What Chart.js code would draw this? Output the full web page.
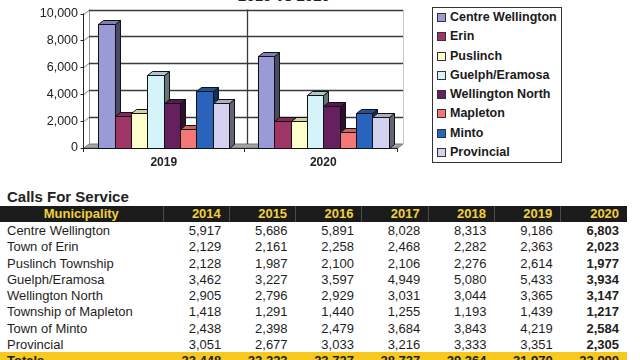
<!DOCTYPE html>
<html>
<head>
<meta charset="utf-8">
<script src="https://cdn.jsdelivr.net/npm/chart.js@4.4.0/dist/chart.umd.min.js"></script>
<style>
  html, body { margin: 0; padding: 0; background: #fff; overflow: hidden; }
  body { width: 640px; height: 360px; position: relative; font-family: 'Liberation Sans', Arial, sans-serif; color: #222; }
  #title { position: absolute; left: 0; width: 568px; top: -12px; text-align: center; font: bold 15px/15px 'Liberation Sans', Arial, sans-serif; color: #222; }
  #chart { position: absolute; left: 0; top: 0; }
  #legend { position: absolute; left: 432px; top: 7px; width: 128px; height: 154px; border: 1px solid #333; }
  #legend .item { height: 19.3px; line-height: 19.3px; font: bold 12.5px/19.3px 'Liberation Sans', Arial, sans-serif; color: #1a1a1a; white-space: nowrap; }
  #legend .sw { display: inline-block; width: 7px; height: 7px; border: 1px solid #333; margin: 0 4px 0 4px; vertical-align: -1px; }
  #calls { position: absolute; left: 7px; top: 189px; font: bold 15px/15px 'Liberation Sans', Arial, sans-serif; color: #222; }
  #tbl { position: absolute; left: 0; top: 206px; width: 627px; border-collapse: collapse; table-layout: fixed; font-size: 13px; }
  #tbl th { background: #1b1b1b; color: #f1d23a; font: bold 13px/16px 'Liberation Sans', Arial, sans-serif; height: 16px; padding: 0 8px 0 0; text-align: right; border-left: 1px solid #4a4a4a; }
  #tbl th:first-child { text-align: center; border-left: none; padding: 0; }
  #tbl td { font: 13px/14.3px 'Liberation Sans', Arial, sans-serif; padding: 2px 8px 0 0; height: 14.3px; text-align: right; color: #1e1e1e; white-space: nowrap; }
  #tbl td:first-child { text-align: left; padding-left: 7px; }
  #tbl td:last-child { font-weight: bold; }
  #tbl tr.tot td { background: #f7c81e; font-weight: bold; }
</style>
</head>
<body>
<div id="title">2019 vs 2020</div>
<canvas id="chart" width="420" height="175"></canvas>
<div id="legend"></div>
<div id="calls">Calls For Service</div>
<table id="tbl"></table>
<script>
const municipalities = ['Centre Wellington', 'Town of Erin', 'Puslinch Township', 'Guelph/Eramosa', 'Wellington North', 'Township of Mapleton', 'Town of Minto', 'Provincial'];
const legendLabels = ['Centre Wellington', 'Erin', 'Puslinch', 'Guelph/Eramosa', 'Wellington North', 'Mapleton', 'Minto', 'Provincial'];
const years = ['2014', '2015', '2016', '2017', '2018', '2019', '2020'];
const calls2014 = [5917, 2129, 2128, 3462, 2905, 1418, 2438, 3051];
const calls2015 = [5686, 2161, 1987, 3227, 2796, 1291, 2398, 2677];
const calls2016 = [5891, 2258, 2100, 3597, 2929, 1440, 2479, 3033];
const calls2017 = [8028, 2468, 2106, 4949, 3031, 1255, 3684, 3216];
const calls2018 = [8313, 2282, 2276, 5080, 3044, 1193, 3843, 3333];
const calls2019 = [9186, 2363, 2614, 5433, 3365, 1439, 4219, 3351];
const calls2020 = [6803, 2023, 1977, 3934, 3147, 1217, 2584, 2305];
const totals = [23448, 22223, 23727, 28737, 29364, 31970, 23990];
const chartYears = ['2019', '2020'];
const yTicks = [0, 2000, 4000, 6000, 8000, 10000];
const barColors = ['#9a9ad6', '#9e3566', '#ffffcc', '#d5f3f9', '#64205f', '#f47676', '#2a63bb', '#d2d2f0'];

const DX = 5, DY = 4;
function shade(hex, f){
    const n = parseInt(hex.slice(1), 16);
    const c = [n >> 16, (n >> 8) & 255, n & 255].map(v => Math.round(v * f));
    return `rgb(${c[0]},${c[1]},${c[2]})`;
}
function poly(ctx, pts, fill, stroke){
    ctx.beginPath();
    pts.forEach((p, i) => i ? ctx.lineTo(p[0], p[1]) : ctx.moveTo(p[0], p[1]));
    ctx.closePath();
    if(fill){ ctx.fillStyle = fill; ctx.fill(); }
    if(stroke){ ctx.strokeStyle = stroke; ctx.stroke(); }
}
function line(ctx, x1, y1, x2, y2){ ctx.beginPath(); ctx.moveTo(x1, y1); ctx.lineTo(x2, y2); ctx.stroke(); }

// fake 3d box + bars
const box3d = {
    id: 'box3d',
    beforeDatasetsDraw(chart){
        const { ctx, chartArea: a, scales: { x, y } } = chart;
        ctx.save();
        ctx.lineWidth = 1;
        // floor
        const b = Math.round(a.bottom);
        poly(ctx, [[a.left, b], [a.left + DX, b - DY], [a.right, b - DY], [a.right - DX, b]], '#a3a3a3', '#777');
        // back wall edges
        ctx.strokeStyle = '#c8c8c8';
        line(ctx, a.right + 0.5, a.top - DY, a.right + 0.5, b - DY);
        ctx.strokeStyle = '#999';
        line(ctx, a.left + DX + 0.5, a.top - DY, a.left + DX + 0.5, b - DY);
        // grid lines
        ctx.lineWidth = 1.3;
        y.ticks.forEach((t, i) => {
            if(i === 0) return;
            const py = Math.round(y.getPixelForValue(t.value)) + 0.5;
            ctx.strokeStyle = '#aaa';
            line(ctx, a.left, py, a.left + DX, py - DY);
            ctx.strokeStyle = '#3a3a3a';
            line(ctx, a.left + DX, py - DY, a.right, py - DY);
        });
        // category divider on back wall
        const mid = Math.round((x.getPixelForValue(0) + x.getPixelForValue(1)) / 2 + 3) + 0.5;
        line(ctx, mid, a.top - DY, mid, b - DY);
        // axes
        ctx.strokeStyle = '#222';
        ctx.lineWidth = 1;
        const ax = Math.round(a.left) - 0.5;
        line(ctx, ax, a.top, ax, b);
        y.ticks.forEach(t => {
            const py = Math.round(y.getPixelForValue(t.value)) + 0.5;
            line(ctx, ax - 3, py, ax, py);
        });
        line(ctx, a.left, b + 0.5, a.right - DX, b + 0.5);
        [a.left, mid - 3, a.right - DX].forEach(px => line(ctx, Math.round(px) - 0.5, b, Math.round(px) - 0.5, b + 4));
        ctx.restore();
    },
    afterDatasetsDraw(chart){
        const ctx = chart.ctx;
        ctx.save();
        ctx.lineWidth = 1;
        chart.data.datasets.forEach((ds, i) => {
            chart.getDatasetMeta(i).data.forEach(bar => {
                const p = bar.getProps(['x', 'y', 'base', 'width'], true);
                const l = Math.round(p.x - p.width / 2) + 0.5, r = Math.round(p.x + p.width / 2) + 0.5;
                const t = Math.round(p.y) + 0.5, bs = Math.round(p.base) + 0.5;
                const col = ds.backgroundColor;
                poly(ctx, [[r, t], [r + DX, t - DY], [r + DX, bs - DY], [r, bs]], shade(col, 0.48), '#111');
                poly(ctx, [[l, t], [l + DX, t - DY], [r + DX, t - DY], [r, t]], shade(col, 0.82), '#111');
                poly(ctx, [[l, t], [r, t], [r, bs], [l, bs]], col, '#111');
            });
        });
        ctx.restore();
    }
};

const tickFont = { family: "'Liberation Sans', Arial, sans-serif", size: 12.5 };
const chart = new Chart(document.getElementById('chart'), {
    type: 'bar',
    data: {
        labels: chartYears,
        datasets: legendLabels.map((name, i) => ({
            label: name,
            data: [calls2019[i], calls2020[i]],
            backgroundColor: barColors[i],
            borderColor: '#111',
            borderWidth: 1
        }))
    },
    options: {
        responsive: false,
        animation: false,
        devicePixelRatio: 1,
        layout: { padding: { top: 13, right: 17, left: 0, bottom: 0 } },
        datasets: { bar: { categoryPercentage: 0.82, barPercentage: 1 } },
        plugins: { legend: { display: false }, tooltip: { enabled: false } },
        scales: {
            x: {
                grid: { display: false, drawTicks: false },
                border: { display: false },
                ticks: { color: '#222', font: { ...tickFont, size: 12, weight: 'bold' }, padding: 7 },
                afterFit: s => { s.height = 27; }
            },
            y: {
                min: 0, max: 10000,
                afterBuildTicks: s => { s.ticks = yTicks.map(v => ({ value: v })); },
                grid: { display: false, drawTicks: false },
                border: { display: false },
                ticks: { color: '#222', font: tickFont, padding: 6 },
                afterFit: s => { s.width = 84; }
            }
        }
    },
    plugins: [box3d]
});

// legend
document.getElementById('legend').innerHTML = legendLabels.map((n, i) =>
    `<div class="item"><span class="sw" style="background:${barColors[i]}"></span>${n}</div>`).join('');

// table
const cols = [calls2014, calls2015, calls2016, calls2017, calls2018, calls2019, calls2020];
const fmt = v => v.toLocaleString('en-US');
let html = '<colgroup><col style="width:163px">' + years.map(() => '<col style="width:66.3px">').join('') + '</colgroup>';
html += '<tr><th>Municipality</th>' + years.map(y => `<th>${y}</th>`).join('') + '</tr>';
municipalities.forEach((m, i) => {
    html += `<tr><td>${m}</td>` + cols.map(c => `<td>${fmt(c[i])}</td>`).join('') + '</tr>';
});
html += '<tr class="tot"><td>Totals</td>' + totals.map(v => `<td>${fmt(v)}</td>`).join('') + '</tr>';
document.getElementById('tbl').innerHTML = html;
</script>
</body>
</html>
